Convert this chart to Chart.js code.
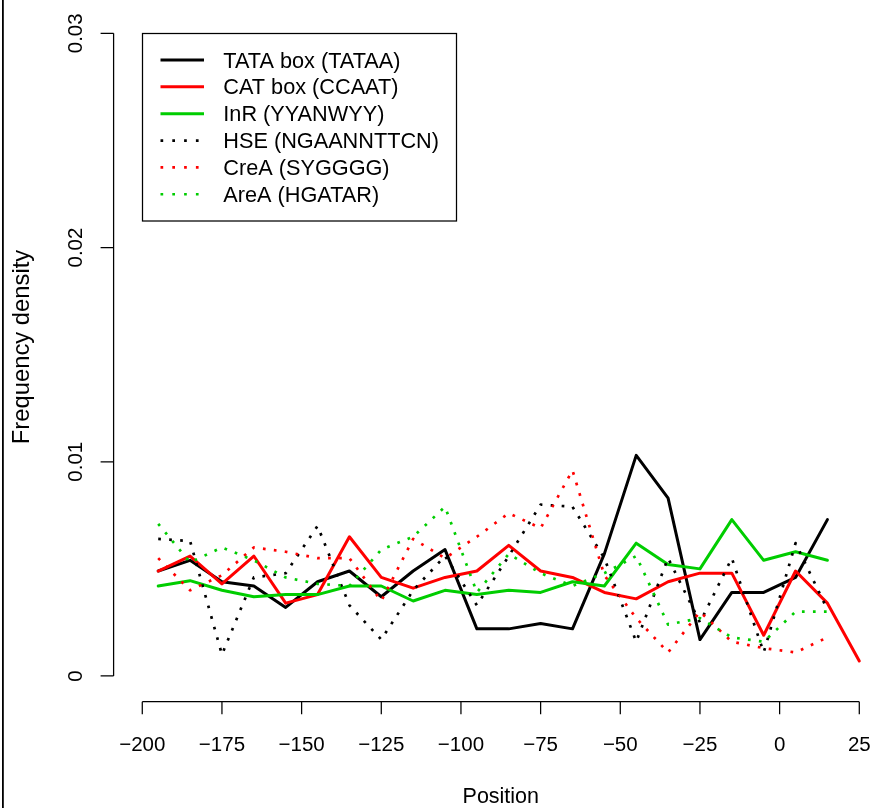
<!DOCTYPE html>
<html>
<head>
<meta charset="utf-8">
<title>Motif frequency density</title>
<script src="https://cdn.jsdelivr.net/npm/chart.js@4.4.0/dist/chart.umd.min.js"></script>
<style>
    html, body { margin: 0; padding: 0; background: #fff; overflow: hidden; }
    #wrap { position: relative; width: 875px; height: 808px; }
</style>
</head>
<body>
<div id="wrap"><canvas id="motifChart" width="875" height="808"></canvas></div>
<script>
// Data
const positions = [-195, -185, -175, -165, -155, -145, -135, -125, -115, -105, -95,
    -85, -75, -65, -55, -45, -35, -25, -15, -5, 5, 15];
const catPositions = [-195, -185, -175, -165, -155, -145, -135, -125, -115, -105, -95,
    -85, -75, -65, -55, -45, -35, -25, -15, -5, 5, 15, 25];

const tataBox = [0.0049, 0.0054, 0.0044, 0.0042, 0.0032, 0.0044, 0.0049, 0.0037, 0.0049, 0.0059, 0.0022,
    0.0022, 0.00245, 0.0022, 0.0057, 0.0103, 0.0083, 0.0017, 0.0039, 0.0039, 0.0046, 0.0073];
const catBox = [0.0049, 0.0056, 0.0043, 0.0056, 0.0034, 0.0038, 0.0065, 0.0046, 0.0041, 0.0046, 0.0049,
    0.0061, 0.0049, 0.0046, 0.0039, 0.0036, 0.0044, 0.0048, 0.0048, 0.0019, 0.0049, 0.0034, 0.0007];
const inr = [0.0042, 0.00445, 0.0040, 0.0037, 0.0038, 0.0038, 0.0042, 0.0042, 0.0035, 0.0040, 0.0038,
    0.0040, 0.0039, 0.0044, 0.0042, 0.0062, 0.0052, 0.0050, 0.0073, 0.0054, 0.0058, 0.0054];
const hse = [0.0064, 0.0063, 0.0010, 0.0046, 0.0048, 0.0070, 0.0033, 0.0017, 0.0040, 0.0056, 0.0033,
    0.0056, 0.0080, 0.0079, 0.0055, 0.0016, 0.0055, 0.0025, 0.0055, 0.0011, 0.0062, 0.0031];
const creA = [0.0055, 0.0040, 0.0047, 0.0060, 0.0058, 0.0055, 0.0055, 0.0035, 0.0064, 0.0055, 0.0065,
    0.0076, 0.0069, 0.0096, 0.0047, 0.0027, 0.0011, 0.0030, 0.0016, 0.0013, 0.0011, 0.0018];
const areA = [0.0071, 0.0053, 0.0060, 0.0054, 0.0046, 0.0043, 0.0042, 0.0059, 0.0065, 0.0079, 0.0039,
    0.0057, 0.0048, 0.0042, 0.0048, 0.0056, 0.0024, 0.0027, 0.0018, 0.0016, 0.0030, 0.0030];

const xTicks = [-200, -175, -150, -125, -100, -75, -50, -25, 0, 25];
const xTickLabels = ['\u2212200', '\u2212175', '\u2212150', '\u2212125', '\u2212100', '\u221275', '\u221250', '\u221225', '0', '25'];
const yTicks = [0, 0.01, 0.02, 0.03];
const yTickLabels = ['0', '0.01', '0.02', '0.03'];

const FONT = '"Liberation Sans", Arial, Helvetica, sans-serif';
const DOTS = [2.7, 8.3];

function toPoints(xs, ys) {
    return xs.map((x, i) => ({ x: x, y: ys[i] }));
}

function lineSet(label, xs, ys, color, dotted, order) {
    return {
        label: label,
        data: toPoints(xs, ys),
        borderColor: color,
        backgroundColor: color,
        borderWidth: dotted ? 2.7 : 3,
        borderDash: dotted ? DOTS : [],
        borderCapStyle: dotted ? 'butt' : 'round',
        borderJoinStyle: 'round',
        pointRadius: 0,
        tension: 0,
        fill: false,
        order: order
    };
}

// R style axes, titles, legend and the frame line on the left
const rAxesPlugin = {
    id: 'rAxes',
    afterDraw(chart) {
        const ctx = chart.ctx;
        const xs = chart.scales.x;
        const ys = chart.scales.y;
        ctx.save();
        ctx.strokeStyle = '#000';
        ctx.fillStyle = '#000';
        ctx.lineWidth = 1.25;

        // x axis
        const axY = ys.bottom;
        ctx.beginPath();
        ctx.moveTo(xs.getPixelForValue(xTicks[0]), axY);
        ctx.lineTo(xs.getPixelForValue(xTicks[xTicks.length - 1]), axY);
        xTicks.forEach(v => {
            const px = xs.getPixelForValue(v);
            ctx.moveTo(px, axY);
            ctx.lineTo(px, axY + 12.5);
        });
        ctx.stroke();
        ctx.font = '20.5px ' + FONT;
        ctx.textAlign = 'center';
        ctx.textBaseline = 'alphabetic';
        xTicks.forEach((v, i) => {
            ctx.fillText(xTickLabels[i], xs.getPixelForValue(v), 750.5);
        });

        // y axis
        const axX = xs.left;
        ctx.beginPath();
        ctx.moveTo(axX, ys.getPixelForValue(yTicks[0]));
        ctx.lineTo(axX, ys.getPixelForValue(yTicks[yTicks.length - 1]));
        yTicks.forEach(v => {
            const py = ys.getPixelForValue(v);
            ctx.moveTo(axX, py);
            ctx.lineTo(axX - 13, py);
        });
        ctx.stroke();
        yTicks.forEach((v, i) => {
            ctx.save();
            ctx.translate(81.5, ys.getPixelForValue(v));
            ctx.rotate(-Math.PI / 2);
            ctx.fillText(yTickLabels[i], 0, 0);
            ctx.restore();
        });

        // axis titles
        ctx.font = '21.5px ' + FONT;
        ctx.fillText('Position', (xs.left + xs.getPixelForValue(34)) / 2, 803);
        ctx.save();
        ctx.translate(29, 347);
        ctx.rotate(-Math.PI / 2);
        ctx.font = '23.8px ' + FONT;
        ctx.fillText('Frequency density', 0, 0);
        ctx.restore();

        // legend
        ctx.lineWidth = 1.25;
        ctx.strokeRect(142.5, 33.5, 314, 187.5);
        ctx.font = '21.7px ' + FONT;
        ctx.textAlign = 'left';
        chart.data.datasets.forEach((ds, i) => {
            const ly = 60 + i * 26.85;
            ctx.save();
            ctx.strokeStyle = ds.borderColor;
            ctx.lineWidth = ds.borderWidth;
            ctx.setLineDash(ds.borderDash.length ? [2.7, 9.1] : []);
            ctx.lineCap = 'butt';
            ctx.beginPath();
            ctx.moveTo(160.5, ly);
            ctx.lineTo(204, ly);
            ctx.stroke();
            ctx.restore();
            ctx.fillText(ds.label, 223.3, ly + 7.6);
        });

        // frame line at the left edge
        ctx.fillRect(2, 0, 1.8, chart.height);
        ctx.restore();
    }
};

const ctx = document.getElementById('motifChart').getContext('2d');
const chart = new Chart(ctx, {
    type: 'line',
    data: {
        datasets: [
            lineSet('TATA box (TATAA)', positions, tataBox, '#000000', false, 6),
            lineSet('CAT box (CCAAT)', catPositions, catBox, '#ff0000', false, 5),
            lineSet('InR (YYANWYY)', positions, inr, '#00cd00', false, 4),
            lineSet('HSE (NGAANNTTCN)', positions, hse, '#000000', true, 3),
            lineSet('CreA (SYGGGG)', positions, creA, '#ff0000', true, 2),
            lineSet('AreA (HGATAR)', positions, areA, '#00cd00', true, 1)
        ]
    },
    options: {
        responsive: false,
        devicePixelRatio: 1,
        animation: false,
        layout: {
            padding: { left: 113.6, right: 0, top: 7.6, bottom: 106.3 }
        },
        plugins: {
            legend: { display: false },
            tooltip: { enabled: false }
        },
        scales: {
            x: { type: 'linear', min: -209, max: 29.93, display: false },
            y: { type: 'linear', min: -0.0012, max: 0.0312, display: false }
        }
    },
    plugins: [rAxesPlugin]
});
</script>
</body>
</html>
